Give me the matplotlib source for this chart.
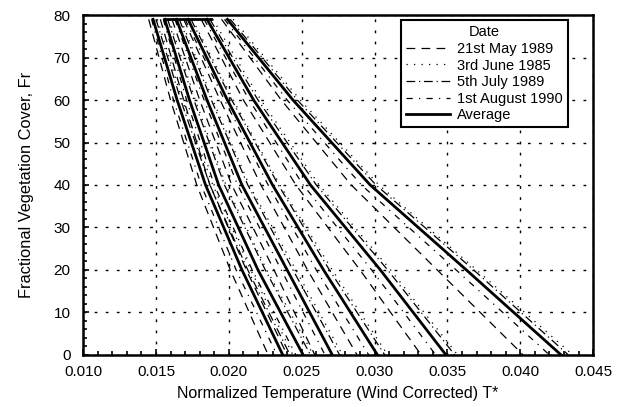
import numpy as np
import matplotlib
matplotlib.use("Agg")
import matplotlib.pyplot as plt
from matplotlib.ticker import MultipleLocator

plt.rcParams['font.family'] = ['Liberation Sans', 'DejaVu Sans']

fr = [79, 60, 40, 20, 0]

# Average curves (one per wind/condition class), T* at each Fr level
moyenne = [
    [0.0148, 0.01645, 0.0184, 0.0209, 0.0237],
    [0.0156, 0.0173, 0.0193, 0.0220, 0.0251],
    [0.0164, 0.0185, 0.0209, 0.0240, 0.0271],
    [0.0172, 0.0199, 0.0230, 0.0265, 0.0302],
    [0.0185, 0.0217, 0.0256, 0.0304, 0.0349],
    [0.0199, 0.0244, 0.0297, 0.0363, 0.0428],
]

mai_1989 = [
    [0.0145, 0.0160, 0.0178, 0.0201, 0.0227],
    [0.0153, 0.0169, 0.0187, 0.0212, 0.0240],
    [0.0161, 0.0180, 0.0202, 0.0231, 0.0259],
    [0.0169, 0.0194, 0.0222, 0.0254, 0.0288],
    [0.0181, 0.0210, 0.0246, 0.0290, 0.0332],
    [0.0195, 0.0236, 0.0284, 0.0343, 0.0402],
]

juin_1985 = [
    [0.0151, 0.0168, 0.0189, 0.0215, 0.0244],
    [0.0159, 0.0177, 0.0198, 0.0226, 0.0258],
    [0.0167, 0.0189, 0.0214, 0.0246, 0.0278],
    [0.0175, 0.0203, 0.0235, 0.0271, 0.0309],
    [0.0189, 0.0222, 0.0262, 0.0311, 0.0357],
    [0.0203, 0.0249, 0.0303, 0.0370, 0.0436],
]

juillet_1989 = [
    [0.0150, 0.0167, 0.0187, 0.0213, 0.0242],
    [0.0158, 0.0176, 0.0197, 0.0225, 0.0256],
    [0.0166, 0.0188, 0.0213, 0.0244, 0.0276],
    [0.0174, 0.0202, 0.0234, 0.0269, 0.0307],
    [0.0187, 0.0220, 0.0260, 0.0309, 0.0355],
    [0.0201, 0.0247, 0.0301, 0.0368, 0.0433],
]

aout_1990 = [
    [0.0147, 0.0162, 0.0181, 0.0205, 0.0233],
    [0.0155, 0.0171, 0.0190, 0.0216, 0.0246],
    [0.0163, 0.0183, 0.0206, 0.0236, 0.0266],
    [0.0170, 0.0197, 0.0227, 0.0260, 0.0296],
    [0.0183, 0.0214, 0.0251, 0.0298, 0.0342],
    [0.0197, 0.0240, 0.0291, 0.0356, 0.0420],
]

# short flat segment joining the tops of the curves
haut_x = [0.0156, 0.0188]
haut_y = [79, 79]

series = [
    ("21st May 1989", mai_1989, (0, (7, 5))),
    ("3rd June 1985", juin_1985, (0, (1, 5))),
    ("5th July 1989", juillet_1989, (0, (7, 3, 1, 3))),
    ("1st August 1990", aout_1990, (0, (5, 5, 1, 5))),
]

fig = plt.figure(figsize=(6.25, 4.07), dpi=100)
ax = fig.add_axes([0.133, 0.128, 0.816, 0.835])

for nom, courbes, style in series:
    for i, xs in enumerate(courbes):
        ax.plot(xs, fr, color='black', linestyle=style, linewidth=0.9,
                label=nom if i == 0 else None)

for i, xs in enumerate(moyenne):
    ax.plot(xs, fr, color='black', linewidth=2.0,
            label="Average" if i == 0 else None)
ax.plot(haut_x, haut_y, color='black', linewidth=2.0)

ax.set_xlim(0.010, 0.045)
ax.set_ylim(0, 80)
ax.xaxis.set_major_locator(MultipleLocator(0.005))
ax.xaxis.set_minor_locator(MultipleLocator(0.001))
ax.yaxis.set_major_locator(MultipleLocator(10))
ax.yaxis.set_minor_locator(MultipleLocator(2))
ax.xaxis.set_major_formatter(plt.FormatStrFormatter('%.3f'))
ax.tick_params(which='both', direction='in', top=False, right=False,
               labelsize=11, width=1.2)
ax.tick_params(which='major', length=4)
ax.tick_params(which='minor', length=3)
ax.tick_params(axis='x', pad=7)
ax.tick_params(axis='y', pad=9)

ax.grid(True, which='major', color='black', linestyle=(0, (2, 6)), linewidth=1.0)

for s in ax.spines.values():
    s.set_linewidth(1.8)

ax.set_xlabel("Normalized Temperature (Wind Corrected) T*", fontsize=11.5, labelpad=5)
ax.set_ylabel("Fractional Vegetation Cover, Fr", fontsize=11.8, labelpad=14)

leg = ax.legend(title="Date", loc='upper right', bbox_to_anchor=(0.951, 0.985),
                borderaxespad=0,
                fontsize=10.5, title_fontsize=10.5, handlelength=3.0,
                handletextpad=0.5, labelspacing=0.18, borderpad=0.35,
                fancybox=False, framealpha=1, edgecolor='black')
leg.get_frame().set_linewidth(1.5)

fig.savefig("out.png", dpi=100)
